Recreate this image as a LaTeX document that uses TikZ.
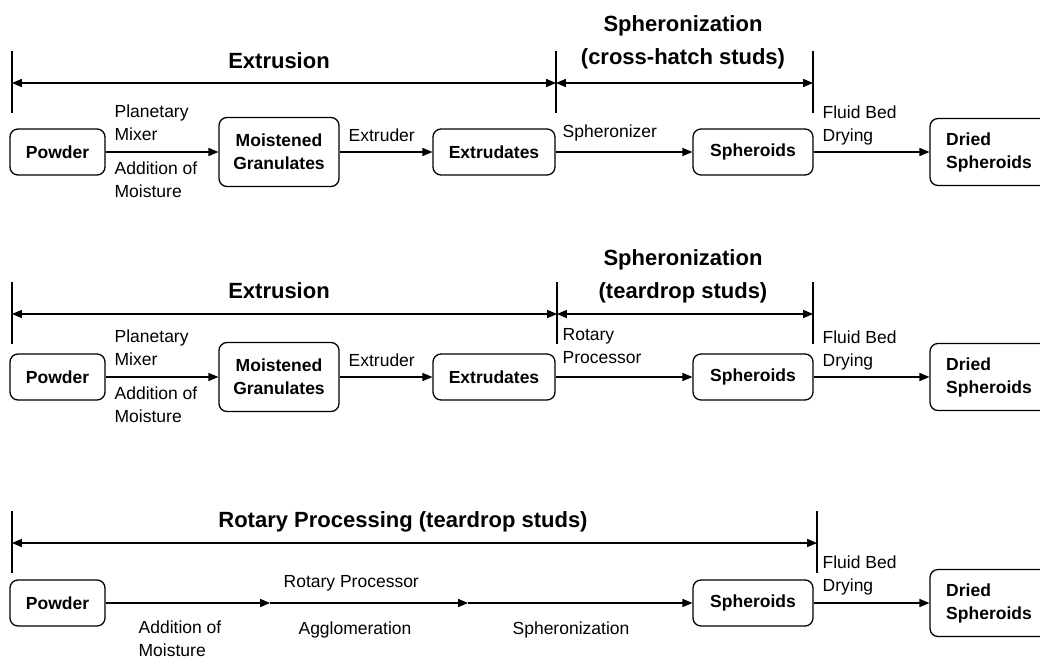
\documentclass[tikz,border=0pt]{standalone}
\usepackage{fontspec}
\setmainfont{Liberation Sans}
\usepackage{tikz}
\usetikzlibrary{arrows}

\begin{document}
\begin{tikzpicture}[x=1pt,y=-1pt,>=triangle 45,line width=1.3pt]
                \tikzset{every node/.style={inner sep=0pt, font=\fontsize{17.5}{23}\selectfont},
                         box/.style={draw, rounded corners=8pt, align=center, minimum height=46pt,
                                     font=\bfseries\fontsize{17.5}{23}\selectfont},
                         lbl/.style={anchor=west, align=left},
                         head/.style={align=center, font=\bfseries\fontsize{22}{33}\selectfont},
                         flow/.style={->},
                         span/.style={<->},
                         tickline/.style={-}}

                \useasboundingbox (0,0) rectangle (1040,661);

                \node[box, minimum width=95pt] (P1) at (57.5,152) {Powder};
                \node[box, minimum width=120pt, minimum height=69pt] (M1) at (279,152) {Moistened\\Granulates};
                \node[box, minimum width=122pt] (E1) at (494,152) {Extrudates};
                \node[box, minimum width=120pt] (S1) at (753,152) {Spheroids};
                \node[box, minimum width=118pt, minimum height=67pt, align=left] (D1) at (989,152) {Dried\\Spheroids};

                \node[box, minimum width=95pt] (P2) at (57.5,377) {Powder};
                \node[box, minimum width=120pt, minimum height=69pt] (M2) at (279,377) {Moistened\\Granulates};
                \node[box, minimum width=122pt] (E2) at (494,377) {Extrudates};
                \node[box, minimum width=120pt] (S2) at (753,377) {Spheroids};
                \node[box, minimum width=118pt, minimum height=67pt, align=left] (D2) at (989,377) {Dried\\Spheroids};

                \node[box, minimum width=95pt] (P3) at (57.5,603) {Powder};
                \node[box, minimum width=120pt] (S3) at (753,603) {Spheroids};
                \node[box, minimum width=118pt, minimum height=67pt, align=left] (D3) at (989,603) {Dried\\Spheroids};
                \coordinate (G3) at (270,603);
                \coordinate (H3) at (468,603);

                \coordinate (L1) at (12,83);
                \coordinate (C1) at (556,83);
                \coordinate (R1) at (813,83);
                \coordinate (L2) at (12,314);
                \coordinate (C2) at (557,314);
                \coordinate (R2) at (813,314);
                \coordinate (L3) at (12,543);
                \coordinate (R3) at (817,543);

                \node[head] (X1) at (279,61) {Extrusion};
                \node[head] (Y1) at (683,42) {Spheronization\\(cross-hatch studs)};
                \node[head] (X2) at (279,291) {Extrusion};
                \node[head] (Y2) at (683,276) {Spheronization\\(teardrop studs)};
                \node[head] (Z3) at (403,522) {Rotary Processing (teardrop studs)};

                \node[lbl] (a1) at (114,123) {Planetary\\Mixer};
                \node[lbl] (b1) at (114,180) {Addition of\\Moisture};
                \node[lbl] (c1) at (348,135) {Extruder};
                \node[lbl] (d1) at (562,133) {Spheronizer};
                \node[lbl] (e1) at (822,125) {Fluid Bed\\Drying};

                \node[lbl] (a2) at (114,348) {Planetary\\Mixer};
                \node[lbl] (b2) at (114,405) {Addition of\\Moisture};
                \node[lbl] (c2) at (348,360) {Extruder};
                \node[lbl] (d2) at (562,346) {Rotary\\Processor};
                \node[lbl] (e2) at (822,350) {Fluid Bed\\Drying};

                \node[lbl] (a3) at (283,583) {Rotary Processor};
                \node[lbl] (b3) at (138,639) {Addition of\\Moisture};
                \node (c3) at (355,630) {Agglomeration};
                \node (d3) at (571,630) {Spheronization};
                \node[lbl] (e3) at (822,575) {Fluid Bed\\Drying};

                \path (P1) edge[flow] (M1);
                \path (M1) edge[flow] (E1);
                \path (E1) edge[flow] (S1);
                \path (S1) edge[flow] (D1);

                \path (P2) edge[flow] (M2);
                \path (M2) edge[flow] (E2);
                \path (E2) edge[flow] (S2);
                \path (S2) edge[flow] (D2);

                \path (P3) edge[flow] (G3);
                \path (G3) edge[flow] (H3);
                \path (H3) edge[flow] (S3);
                \path (S3) edge[flow] (D3);

                \foreach \c in {L1,C1,R1,L2,C2,R2,L3,R3}
                    \draw[tickline] ([yshift=32pt]\c) -- ([yshift=-30pt]\c);

                \path (L1) edge[span] (C1);
                \path (C1) edge[span] (R1);
                \path (L2) edge[span] (C2);
                \path (C2) edge[span] (R2);
                \path (L3) edge[span] (R3);
            \end{tikzpicture}
\end{document}
